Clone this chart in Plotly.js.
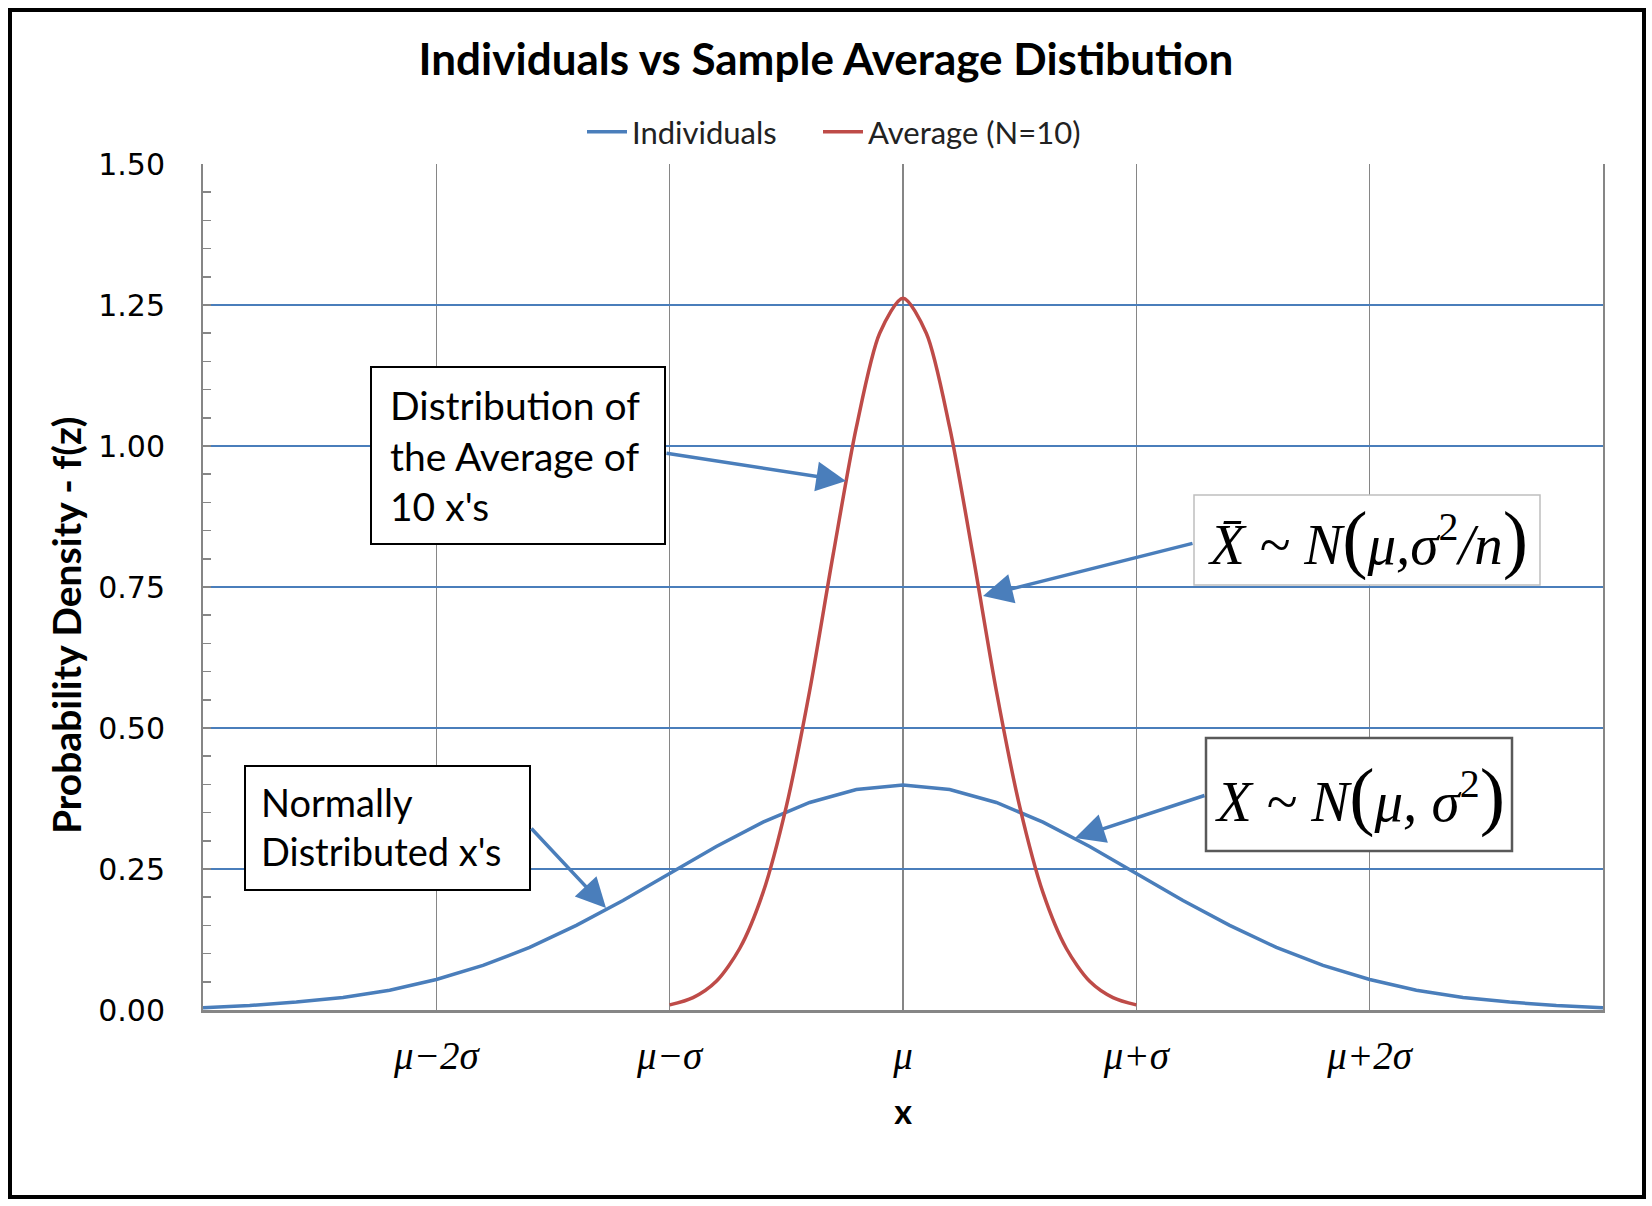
<!DOCTYPE html>
<html>
<head>
<meta charset="utf-8">
<script src="https://cdn.plot.ly/plotly-3.0.1.min.js"></script>
<style>html,body{margin:0;padding:0;background:#fff;}#chart{width:1652px;height:1206px;}</style>
</head>
<body>
<div id="chart"></div>
<script>
// ---- data ----
const indivX = [-3.0,-2.8,-2.6,-2.4,-2.2,-2.0,-1.8,-1.6,-1.4,-1.2,-1.0,-0.8,-0.6,-0.4,-0.2,0.0,0.2,0.4,0.6,0.8,1.0,1.2,1.4,1.6,1.8,2.0,2.2,2.4,2.6,2.8,3.0];
const indivY = [0.004,0.008,0.014,0.022,0.035,0.054,0.079,0.111,0.150,0.194,0.242,0.290,0.333,0.368,0.391,0.399,0.391,0.368,0.333,0.290,0.242,0.194,0.150,0.111,0.079,0.054,0.035,0.022,0.014,0.008,0.004];
const avgX = [-1.0,-0.9,-0.8,-0.7,-0.6,-0.5,-0.4,-0.3,-0.2,-0.1,0.0,0.1,0.2,0.3,0.4,0.5,0.6,0.7,0.8,0.9,1.0];
const avgY = [0.009,0.022,0.051,0.109,0.208,0.361,0.566,0.806,1.033,1.200,1.262,1.200,1.033,0.806,0.566,0.361,0.208,0.109,0.051,0.022,0.009];
const xTickVals = [-2,-1,0,1,2];
const xTickText = ['μ−2σ','μ−σ','μ','μ+σ','μ+2σ'];
const seriesNames = ['Individuals','Average (N=10)'];
const chartTitle = 'Individuals vs Sample Average Distibution';
const yTitle = 'Probability Density - f(z)';
const xTitle = 'x';

const blue = '#4A7EBB', red = '#BE4B48', gray = '#868686';
const sans = 'Lato, "Open Sans", sans-serif';
const serif = '"Liberation Serif", "DejaVu Serif", serif';

const traces = [
  {x: indivX, y: indivY, name: seriesNames[0], type: 'scatter', mode: 'lines',
   line: {color: blue, width: 3.5}, legend: 'legend'},
  {x: avgX, y: avgY, name: seriesNames[1], type: 'scatter', mode: 'lines',
   line: {color: red, width: 3.5, shape: 'spline', smoothing: 0.8}, legend: 'legend2'}
];

const L = 203, R = 1603, T = 164, B = 1010;
const PW = R - L, PH = B - T;
const px = v => (v - L) / PW;
const py = v => (B - v) / PH;

function box(x0, y0, x1, y1, color, w) {
  return {type: 'rect', xref: 'paper', yref: 'paper', layer: 'above',
    x0: px(x0), x1: px(x1), y0: py(y1), y1: py(y0),
    line: {color: color, width: w}, fillcolor: 'white'};
}

const shapes = [
  // outer frame
  {type: 'rect', xref: 'paper', yref: 'paper', layer: 'above',
   x0: px(10), x1: px(1644), y0: py(1197), y1: py(10),
   line: {color: 'black', width: 4}, fillcolor: 'rgba(0,0,0,0)'},
  box(371, 367, 665, 544, 'black', 2),
  box(245, 766, 530, 890, 'black', 2),
  box(1194, 495, 1540, 585, '#BFBFBF', 1.5),
  box(1206, 738, 1512, 851, '#595959', 2.5)
];

function arrow(hx, hy, tx, ty) {
  return {xref: 'x', yref: 'y', x: (hx - 903) / (PW / 6), y: (B - hy) / (PH / 1.5),
    ax: tx - hx, ay: ty - hy, text: '', showarrow: true,
    arrowcolor: blue, arrowwidth: 3.5, arrowhead: 2, arrowsize: 1.7, standoff: 0};
}

const big = s => '<span style="font-size:76px">' + s + '</span>';

const annotations = [
  arrow(846, 481, 665, 453),
  arrow(983, 596, 1194, 543),
  arrow(1075, 838, 1206, 795),
  arrow(606, 908, 530, 827),
  {xref: 'paper', yref: 'paper', x: px(388), y: py(455), xanchor: 'left', yanchor: 'middle',
   align: 'left', showarrow: false,
   text: 'Distribution of<br>the Average of<br>10 x\'s',
   font: {family: sans, size: 39, color: 'black'}},
  {xref: 'paper', yref: 'paper', x: px(259), y: py(826), xanchor: 'left', yanchor: 'middle',
   align: 'left', showarrow: false,
   text: 'Normally<br>Distributed x\'s',
   font: {family: sans, size: 38, color: 'black'}},
  {xref: 'paper', yref: 'paper', x: px(1368), y: py(538), xanchor: 'center', yanchor: 'middle',
   showarrow: false,
   text: '<i>X\u0304 ~ N</i>' + big('(') + '<i>μ,σ</i><sup>2</sup><i>/n</i>' + big(')'),
   font: {family: serif, size: 57, color: 'black'}},
  {xref: 'paper', yref: 'paper', x: px(1360), y: py(795), xanchor: 'center', yanchor: 'middle',
   showarrow: false,
   text: '<i>X ~ N</i>' + big('(') + '<i>μ, σ</i><sup>2</sup>' + big(')'),
   font: {family: serif, size: 57, color: 'black'}},
  // y axis title
  {xref: 'paper', yref: 'paper', x: px(66), y: py(625), xanchor: 'center', yanchor: 'middle',
   textangle: -90, showarrow: false, text: '<b>' + yTitle + '</b>',
   font: {family: sans, size: 39, color: 'black'}}
];

const legendBase = {orientation: 'h', xref: 'paper', yref: 'paper', y: py(132),
  xanchor: 'left', yanchor: 'middle', font: {family: sans, size: 31, color: '#222'},
  itemwidth: 40, bgcolor: 'rgba(0,0,0,0)'};

const layout = {
  width: 1652, height: 1206,
  margin: {l: L, r: 1652 - R, t: T, b: 1206 - B},
  paper_bgcolor: 'white', plot_bgcolor: 'white',
  title: {text: '<b>' + chartTitle + '</b>', xref: 'container', x: 0.5, xanchor: 'center',
          yref: 'container', y: 1 - 60 / 1206, yanchor: 'middle',
          font: {family: sans, size: 44, color: 'black'}},
  showlegend: true,
  legend: Object.assign({}, legendBase, {x: px(582)}),
  legend2: Object.assign({}, legendBase, {x: px(818)}),
  xaxis: {range: [-3, 3], tickmode: 'array', tickvals: xTickVals, ticktext: xTickText,
          showgrid: true, gridcolor: gray, gridwidth: 1.5,
          showline: true, linecolor: gray, linewidth: 3, zeroline: false,
          ticks: '', ticklabelstandoff: 9,
          tickfont: {family: serif, size: 39, color: 'black', style: 'italic'},
          title: {text: '<b>' + xTitle + '</b>', standoff: 24,
                  font: {family: sans, size: 34, color: 'black'}}},
  yaxis: {range: [0, 1.5], tickmode: 'linear', tick0: 0, dtick: 0.25, tickformat: '.2f',
          showgrid: true, gridcolor: blue, gridwidth: 1.5,
          showline: true, linecolor: gray, linewidth: 2, mirror: true, zeroline: false,
          ticks: 'inside', ticklen: 8, tickcolor: gray, tickwidth: 1.5,
          ticklabelstandoff: 30,
          minor: {dtick: 0.05, ticks: 'inside', ticklen: 8, tickcolor: gray, tickwidth: 1.5, showgrid: false},
          tickfont: {family: '"DejaVu Sans", sans-serif', size: 30, color: 'black'}},
  shapes: shapes,
  annotations: annotations
};

Plotly.newPlot('chart', traces, layout, {displayModeBar: false, staticPlot: true});
</script>
</body>
</html>
